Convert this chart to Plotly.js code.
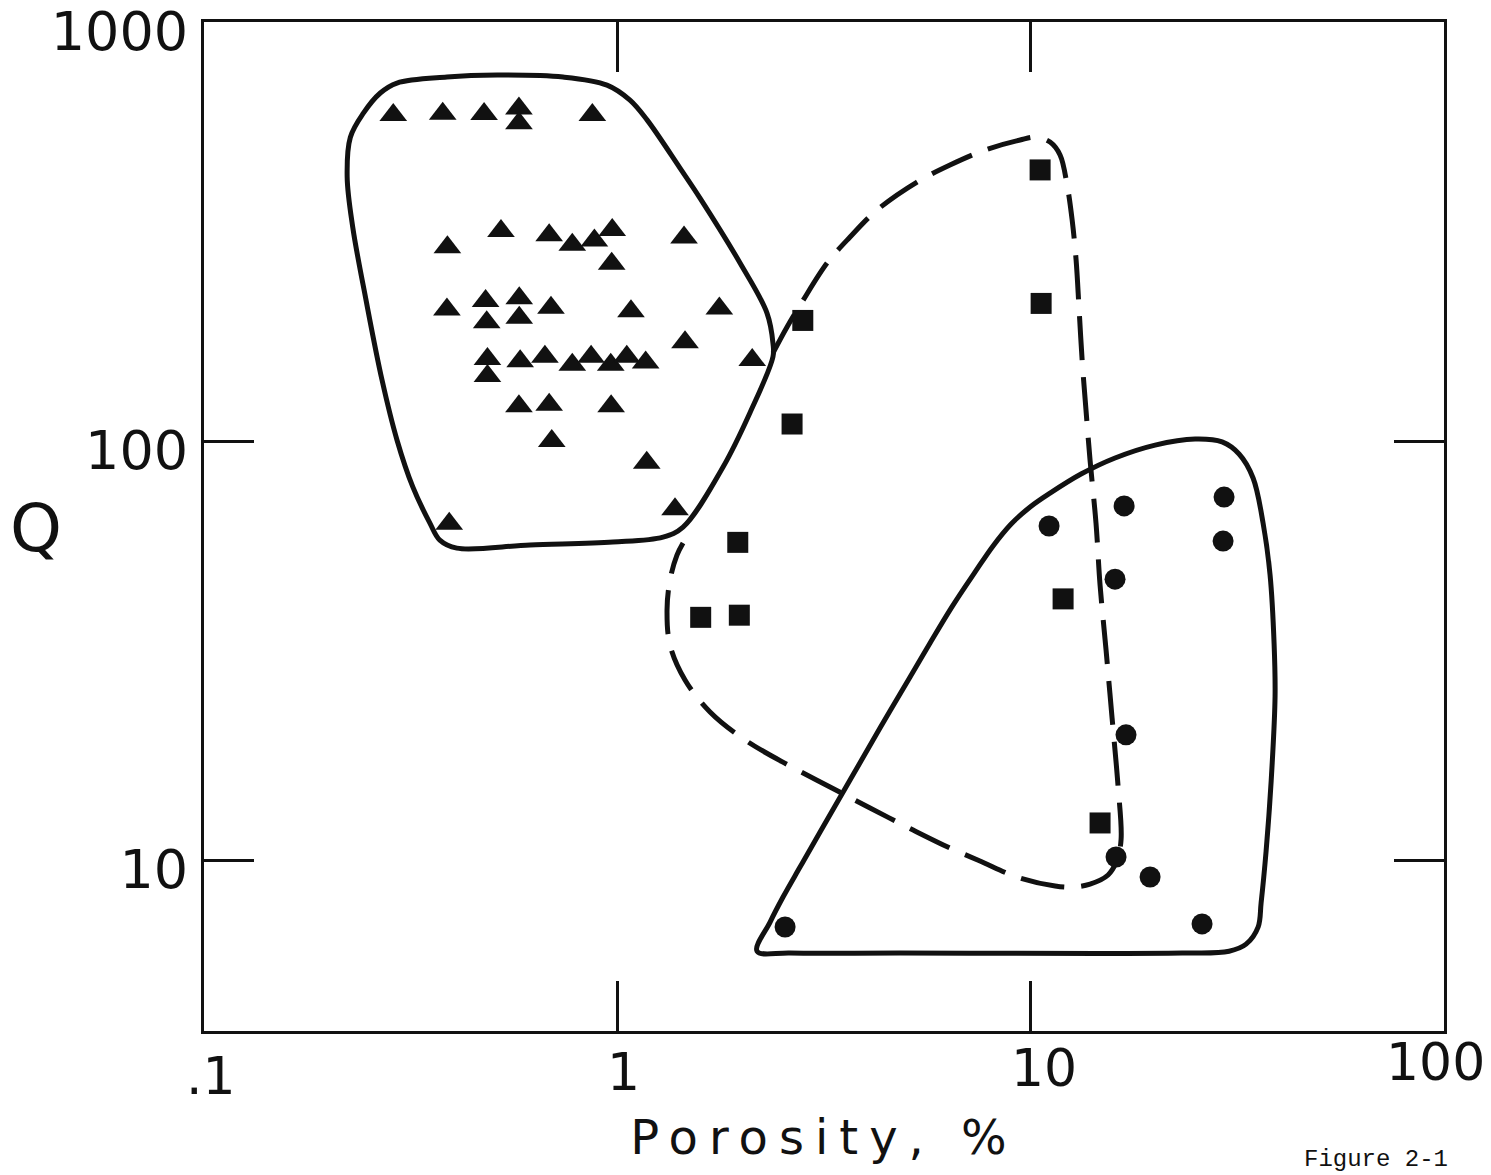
<!DOCTYPE html>
<html>
<head>
<meta charset="utf-8">
<script src="https://cdn.plot.ly/plotly-3.0.1.min.js"></script>
<style>
  html, body { margin: 0; padding: 0; background: #fff; }
  #chart { width: 1491px; height: 1175px; }
  .xtitle { letter-spacing: 11px; }
</style>
</head>
<body>
<div id="chart"></div>
<script>
// Tick positions and their printed labels
const xTickVals = [0.1, 1, 10, 100];
const xTickText = ['.1', '1', '10', '100'];
const yTickVals = [10, 100, 1000];
const yTickText = ['10', '100', '1000'];

// Triangles: porosity (%) and Q
const triPorosity = [0.287, 0.378, 0.476, 0.578, 0.578, 0.870,
  0.523, 0.684, 0.778, 0.880, 0.972, 0.388, 0.969, 1.45,
  0.387, 0.480, 0.483, 0.579, 0.579, 0.691, 1.079, 1.765,
  1.458, 0.485, 0.485, 0.582, 0.668, 0.778, 0.864, 0.964, 1.054, 1.171, 2.12,
  0.578, 0.684, 0.966, 0.694, 1.178, 1.379, 0.392];
const triQ = [600, 604, 603, 622, 573, 600,
  317, 310, 294, 301, 319, 290, 265, 306,
  206, 216, 192, 219, 197, 208, 204, 207,
  172, 157, 143, 155, 159, 152, 159, 152, 159, 154, 156,
  121, 122, 121, 100, 88.8, 68.7, 63.5];

// Squares
const sqPorosity = [10.54, 10.60, 2.81, 2.647, 1.956, 1.591, 1.973, 11.98, 14.72];
const sqQ = [443.6, 213, 194, 109.8, 57.3, 37.95, 38.4, 42.0, 12.26];

// Circles
const circPorosity = [11.08, 16.83, 29.37, 29.21, 16.0, 17.01, 16.09, 19.45, 25.98, 2.546];
const circQ = [62.7, 70.0, 73.5, 57.7, 46.8, 19.9, 10.17, 9.11, 7.04, 6.92];

// Outline around the triangle group (closed, solid)
const envTriPorosity = [0.512, 0.739, 0.944, 1.073, 1.180, 1.418, 1.585, 1.981, 2.302, 2.380,
  2.380, 2.095, 1.802, 1.442, 1.290, 0.976, 0.615, 0.409, 0.372, 0.352,
  0.320, 0.293, 0.2696, 0.2466, 0.229, 0.222, 0.226, 0.243, 0.267, 0.293, 0.387, 0.512];
const envTriQ = [747, 739, 707, 651, 584, 448, 380, 266, 202, 171,
  159, 117, 86.7, 62.3, 59.0, 57.4, 56.5, 55.5, 58.0, 63.7,
  77.7, 100.6, 139.8, 217, 324, 427, 531, 606, 677, 715, 739, 747];

// Outline around the square group (open, dashed)
const envSqPorosity = [2.380, 2.574, 2.798, 3.217, 3.656, 4.25, 5.31, 6.38, 7.76, 9.43,
  10.31, 11.14, 11.78, 12.25, 12.60, 12.88, 13.10, 13.32, 13.61, 13.92,
  14.39, 14.72, 15.22, 15.74, 16.27, 16.55, 16.18, 15.39, 13.92, 12.60,
  11.46, 9.27, 7.54, 6.38, 5.195, 4.087, 3.27, 2.617, 2.037, 1.676,
  1.458, 1.341, 1.319, 1.341, 1.394, 1.442];
const envSqQ = [162.2, 187.2, 214.6, 265.9, 306.8, 355.9, 415, 455.8, 495, 523,
  531, 517, 481.6, 408.3, 336.9, 270.4, 205.4, 156.1, 118.6, 90.1,
  63.7, 45.3, 31.7, 21.8, 15.02, 11.22, 10.0, 9.21, 8.76, 8.62,
  8.67, 9.11, 9.95, 10.68, 11.79, 13.31, 14.94, 16.76, 19.34, 22.55,
  26.9, 32.6, 39.5, 46.6, 53.4, 57.1];

// Outline around the circle group (closed, solid)
const envCircPorosity = [4.83, 2.617, 2.178, 2.342, 2.517, 2.767, 3.094, 3.656, 4.32, 5.108,
  5.71, 6.45, 7.34, 8.11, 8.97, 9.97, 11.14, 13.24, 16.0, 20.0,
  25.0, 29.05, 31.93, 34.52, 36.5, 37.95, 38.81, 39.02, 38.17, 37.12,
  36.1, 35.5, 33.2, 30.2, 23.25, 4.83];
const envCircQ = [6.00, 6.00, 6.06, 7.11, 8.16, 9.62, 11.66, 15.52, 20.65, 27.35,
  32.96, 40.2, 48.7, 56.2, 63.4, 69.6, 75.1, 83.4, 91.1, 97.8,
  101.1, 99.5, 93.1, 81.6, 63.7, 47.9, 32.8, 24.6, 15.36, 10.5,
  7.9, 6.92, 6.30, 6.06, 6.00, 6.00];

const ink = '#111';
const outline = (x, y, dash) => ({
  x: x, y: y, mode: 'lines', hoverinfo: 'skip',
  line: { color: ink, width: 5, shape: 'spline', smoothing: 1, dash: dash || 'solid' }
});
const points = (x, y, symbol, size) => ({
  x: x, y: y, mode: 'markers',
  marker: { symbol: symbol, size: size, color: ink, line: { width: 0 } }
});

const data = [
  outline(envTriPorosity, envTriQ),
  outline(envSqPorosity, envSqQ, '44px,17px'),
  outline(envCircPorosity, envCircQ),
  points(triPorosity, triQ, 'triangle-up', 24),
  points(sqPorosity, sqQ, 'square', 21),
  points(circPorosity, circQ, 'circle', 21)
];

// Hand-lettered porosity labels sit a little off their ticks
const xLabelNudgeX = [7, 6, 13, -9];
const xLabelNudgeY = [-4, 0, 4, 10];
const xLabelFont = { family: 'DejaVu Sans', size: 52, color: ink };
const xLabels = xTickVals.map((v, i) => ({
  text: xTickText[i], xref: 'x', yref: 'paper',
  x: Math.log10(v), y: -0.0406,
  xanchor: 'center', yanchor: 'middle', showarrow: false,
  xshift: xLabelNudgeX[i], yshift: xLabelNudgeY[i],
  font: xLabelFont
}));

const axisCommon = {
  type: 'log',
  ticks: 'inside', ticklen: 50, tickwidth: 3, tickcolor: ink,
  showline: true, linewidth: 3, linecolor: ink, mirror: 'ticks',
  showgrid: false, zeroline: false,
  ticklabeloverflow: 'allow'
};

const layout = {
  width: 1491, height: 1175,
  margin: { l: 204, r: 47, t: 22, b: 144, pad: 0 },
  paper_bgcolor: '#fff', plot_bgcolor: '#fff',
  showlegend: false,
  font: { family: 'DejaVu Sans', color: ink },
  xaxis: Object.assign({}, axisCommon, {
    range: [-1, 2],
    tickmode: 'array', tickvals: xTickVals, ticktext: xTickText,
    showticklabels: false,
    title: { text: 'Porosity, %', font: { family: 'DejaVu Sans', size: 48, color: ink }, standoff: 88 }
  }),
  yaxis: Object.assign({}, axisCommon, {
    range: [0.592, 3],
    tickmode: 'array', tickvals: yTickVals, ticktext: yTickText,
    tickfont: { family: 'DejaVu Sans', size: 54, color: ink },
    ticklabelstandoff: 2,
    ticklabelshift: 9
  }),
  annotations: xLabels.concat([
    { text: 'Q', xref: 'paper', yref: 'paper', x: -0.1355, y: 0.4985,
      xanchor: 'center', yanchor: 'middle', showarrow: false,
      font: { family: 'DejaVu Sans', size: 66, color: ink } },
    { text: 'Figure 2-1', xref: 'paper', yref: 'paper', x: 0.8855, y: -0.112,
      xanchor: 'left', yanchor: 'top', showarrow: false,
      font: { family: 'Liberation Mono', size: 24, color: ink } }
  ])
};

Plotly.newPlot('chart', data, layout, { staticPlot: true, displayModeBar: false });
</script>
</body>
</html>
